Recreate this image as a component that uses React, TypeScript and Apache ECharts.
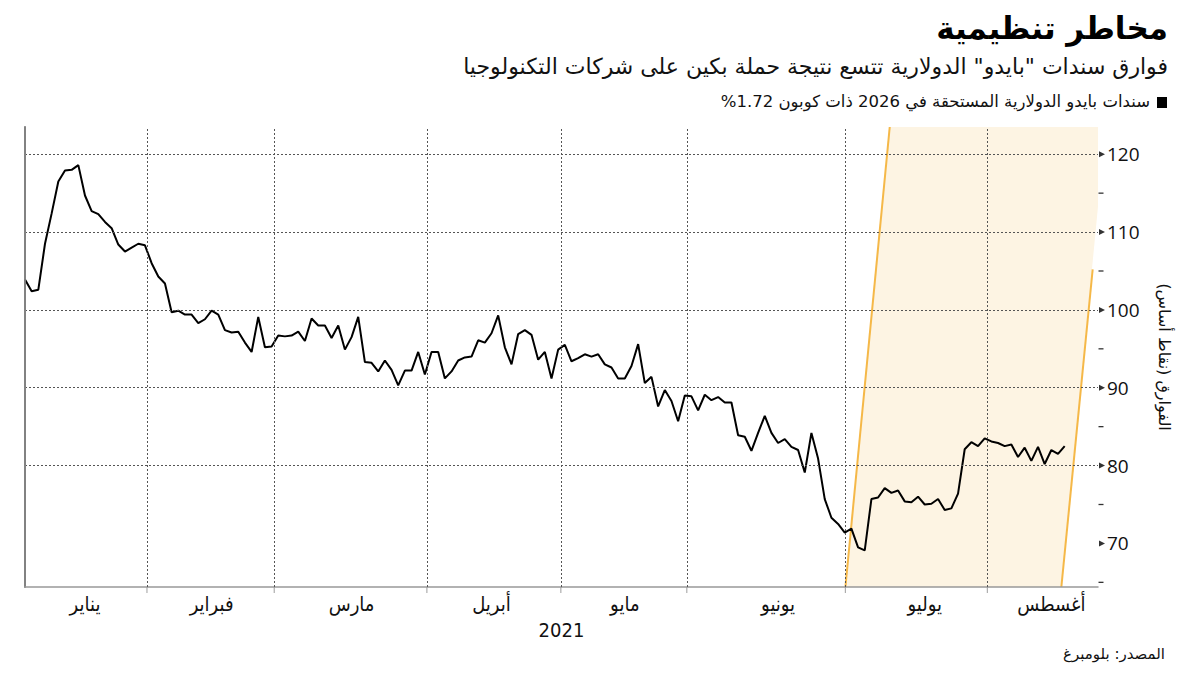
import React, { useEffect, useRef } from "react";
import * as echarts from "echarts";

// ---- data ----
const spreadValues: number[] = [
  // Jan
  103.9, 102.4, 102.6, 108.5, 112.4, 116.5, 117.9, 118.0, 118.6, 114.7, 112.7, 112.3, 111.3, 110.5, 108.4, 107.5, 108.0, 108.5,
  // Feb
  108.3, 106.0, 104.3, 103.4, 99.7, 99.9, 99.4, 99.4, 98.3, 98.8, 99.9, 99.4, 97.4, 97.1, 97.2, 95.8, 94.6, 99.1, 95.2,
  // Mar
  95.3, 96.7, 96.6, 96.7, 97.2, 96.0, 98.9, 98.0, 98.0, 96.4, 98.0, 94.9, 96.5, 99.1, 93.3, 93.2, 92.1, 93.5, 92.3, 90.3, 92.2, 92.2, 94.6,
  // Apr
  91.7, 94.6, 94.6, 91.2, 92.1, 93.5, 93.9, 94.0, 96.1, 95.8, 97.0, 99.3, 95.2, 93.0, 96.9, 97.4, 96.8, 93.6, 94.6, 91.2,
  // May
  94.9, 95.5, 93.4, 93.8, 94.3, 94.0, 94.3, 93.0, 92.6, 91.2, 91.2, 92.8, 95.6, 90.6, 91.4, 87.6, 89.7, 88.3, 85.7,
  // Jun
  89.0, 88.9, 87.1, 89.1, 88.4, 88.8, 88.1, 88.1, 83.9, 83.7, 81.9, 84.2, 86.4, 84.2, 82.9, 83.4, 82.4, 82.0, 79.1, 84.2, 80.9, 75.7, 73.3, 72.5,
  // Jul
  71.4, 71.9, 69.5, 69.1, 75.7, 75.9, 77.1, 76.5, 76.8, 75.4, 75.3, 76.0, 75.0, 75.1, 75.7, 74.3, 74.5, 76.4, 82.1, 83.0, 82.5,
  // Aug
  83.5, 83.1, 82.9, 82.5, 82.7, 81.1, 82.3, 80.6, 82.4, 80.2, 82.0, 81.5, 82.5,
];

const monthLabels: string[] = ["يناير", "فبراير", "مارس", "أبريل", "مايو", "يونيو", "يوليو", "أغسطس"];
const monthLabelIdx: number[] = [9, 28, 49, 70, 90, 113, 135, 154];
const monthBoundaries: number[] = [18.3, 37.4, 60.3, 80.4, 99.3, 123.1, 144.4];
const xMaxIdx = 161;

const yTickLabels: number[] = [70, 80, 90, 100, 110, 120];
const yMinorTicks: number[] = [65, 75, 85, 95, 105, 115];
const yGridLines: number[] = [80, 90, 100, 110, 120];
const yMin = 64.4;
const yMax = 123.5;

// highlighted slanted band (data coords: [index, value])
const bandPoly: number[][] = [
  [123.1, yMin],
  [129.75, yMax],
  [xMaxIdx, yMax],
  [xMaxIdx, 113.3],
  [155.5, yMin],
];
const bandEdges: number[][][] = [
  [[123.1, yMin], [129.75, yMax]],
  [[155.5, yMin], [160.2, 105.2]],
];

const TITLE = "مخاطر تنظيمية";
const SUBTITLE = "فوارق سندات \"بايدو\" الدولارية تتسع نتيجة حملة بكين على شركات التكنولوجيا";
const LEGEND = "سندات بايدو الدولارية المستحقة في 2026 ذات كوبون 1.72%\u200F";
const SOURCE = "المصدر: بلومبرغ";
const Y_NAME = "الفوارق (نقاط أساس)\u200F";
const X_NAME = "2021";

const AR_FONT = '"DejaVu Sans", sans-serif';
const AR_COND = '"DejaVu Sans Condensed", "DejaVu Sans", sans-serif';

export default function App() {
  const ref = useRef<HTMLDivElement>(null);
  useEffect(() => {
    if (!ref.current) return;
    const chart = echarts.init(ref.current, null, { renderer: "svg" });
    const lineData = spreadValues.map((v, i) => [i, v]);
    const option: any = {
      animation: false,
      backgroundColor: "#ffffff",
      grid: { left: 25, right: 102, top: 127, bottom: 88, containLabel: false },
      xAxis: {
        type: "value",
        min: 0,
        max: xMaxIdx,
        name: X_NAME,
        nameLocation: "middle",
        nameGap: 33,
        nameTextStyle: { fontSize: 20, color: "#111", fontFamily: AR_COND },
        axisLine: { show: true, lineStyle: { color: "#999", width: 1.5 } },
        axisTick: { show: false },
        axisLabel: {
          customValues: monthLabelIdx,
          formatter: (v: number) => {
            const k = monthLabelIdx.indexOf(Math.round(v));
            return k >= 0 ? monthLabels[k] : "";
          },
          fontSize: 20,
          color: "#111",
          fontFamily: AR_COND,
          margin: 7,
        },
        splitLine: { show: false },
      },
      yAxis: {
        type: "value",
        position: "right",
        min: yMin,
        max: yMax,
        name: Y_NAME,
        nameLocation: "middle",
        nameRotate: -90,
        nameGap: 58,
        nameTextStyle: { fontSize: 16, color: "#111", fontFamily: AR_FONT },
        axisLine: { show: true, lineStyle: { color: "#000", width: 1.5 } },
        axisTick: { show: false },
        axisLabel: { customValues: yTickLabels, fontSize: 19, color: "#111", margin: 9, fontFamily: '"Open Sans", sans-serif' },
        splitLine: { show: false },
      },
      series: [
        {
          type: "custom",
          z: -1,
          silent: true,
          clip: true,
          data: [[130, 80]],
          renderItem: (_params: any, api: any) => {
            const pts = bandPoly.map((c) => api.coord(c));
            const edges = bandEdges.map((e) => {
              const a = api.coord(e[0]);
              const b = api.coord(e[1]);
              return {
                type: "line",
                shape: { x1: a[0], y1: a[1], x2: b[0], y2: b[1] },
                style: { stroke: "#f5b848", lineWidth: 2 },
              };
            });
            return {
              type: "group",
              children: [
                { type: "polygon", shape: { points: pts }, style: { fill: "#fdf4e3" } },
                ...edges,
              ],
            };
          },
        },
        {
          type: "line",
          data: lineData,
          symbol: "none",
          lineStyle: { color: "#000", width: 2 },
          z: 3,
          markLine: {
            silent: true,
            symbol: "none",
            label: { show: false },
            lineStyle: { type: [2, 2], color: "#555", width: 1 },
            data: [
              ...yGridLines.map((v) => ({ yAxis: v })),
              ...monthBoundaries.map((b) => ({ xAxis: b })),
              { xAxis: 0, lineStyle: { type: "solid", color: "#999", width: 1.5 } },
            ],
          },
        },
        // y-axis major ticks (small arrows pointing to labels)
        {
          type: "scatter",
          silent: true,
          clip: false,
          data: yTickLabels.map((v) => [xMaxIdx, v]),
          symbol: "path://M0,0 L10,5 L0,10 Z",
          symbolSize: [6, 6],
          symbolOffset: [4, 0],
          itemStyle: { color: "#000" },
          z: 5,
        },
        // y-axis minor ticks
        {
          type: "scatter",
          silent: true,
          clip: false,
          data: yMinorTicks.map((v) => [xMaxIdx, v]),
          symbol: "rect",
          symbolSize: [5, 1.3],
          symbolOffset: [3, 0],
          itemStyle: { color: "#000" },
          z: 5,
        },
        // x-axis ticks at month boundaries
        {
          type: "scatter",
          silent: true,
          clip: false,
          data: monthBoundaries.map((b) => [b, yMin]),
          symbol: "rect",
          symbolSize: [1.2, 6],
          symbolOffset: [0, 3],
          itemStyle: { color: "#999" },
          z: 5,
        },
      ],
      graphic: [
        {
          type: "text",
          right: 32,
          top: 12,
          style: { text: TITLE, font: `bold 31px ${AR_FONT}`, fill: "#000" },
        },
        {
          type: "text",
          right: 32,
          top: 55,
          style: { text: SUBTITLE, font: `22px ${AR_FONT}`, fill: "#111" },
        },
        {
          type: "rect",
          right: 33,
          top: 97,
          shape: { width: 10, height: 11 },
          style: { fill: "#000" },
        },
        {
          type: "text",
          right: 50,
          top: 93,
          style: { text: LEGEND, font: `16.5px ${AR_FONT}`, fill: "#111" },
        },
        {
          type: "text",
          right: 35,
          top: 646,
          style: { text: SOURCE, font: `15px ${AR_FONT}`, fill: "#111" },
        },
      ],
    };
    chart.setOption(option);
    return () => chart.dispose();
  }, []);
  return (
    <div
      ref={ref}
      style={{ position: "fixed", left: 0, top: 0, width: 1200, height: 675, background: "#fff" }}
    />
  );
}
